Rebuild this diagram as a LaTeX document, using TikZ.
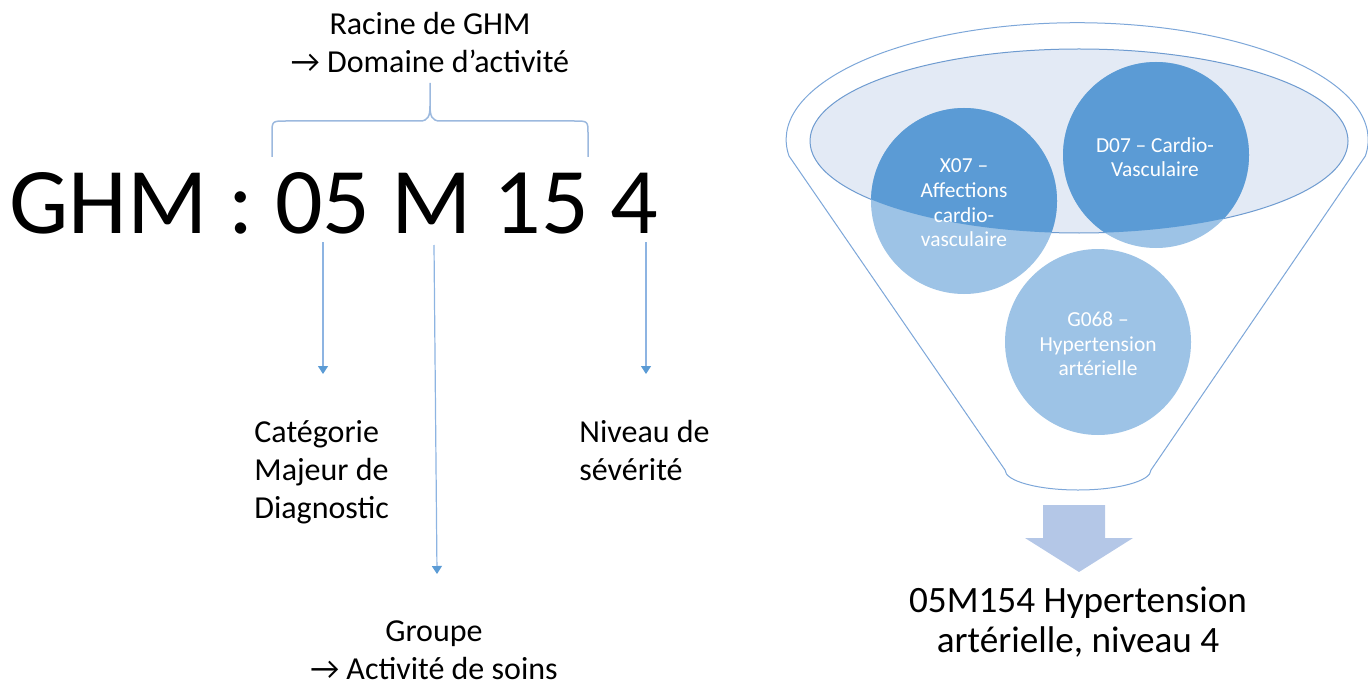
\documentclass[tikz,border=0pt]{standalone}
\usepackage{fontspec}
\setmainfont{Carlito}
\usetikzlibrary{arrows.meta}
\definecolor{darkc}{HTML}{5B9BD5}
\definecolor{lightc}{HTML}{9DC3E6}
\definecolor{glass}{HTML}{E3EAF5}
\definecolor{glassline}{HTML}{6E9BD0}
\definecolor{funline}{HTML}{7DA7D9}
\definecolor{bigarrow}{HTML}{B4C7E7}
\definecolor{bracec}{HTML}{9CB9DE}
\definecolor{arrline}{HTML}{8DB4E2}
\tikzset{
  lbl/.style={inner sep=0pt, font=\fontsize{16}{19}\selectfont, align=left},
  clbl/.style={inner sep=0pt, font=\fontsize{16}{19}\selectfont, align=center},
  ctext/.style={inner sep=0pt, text=white, font=\fontsize{10.7}{12.3}\selectfont, align=center},
  pointer/.style={draw=arrline, line width=0.6pt, -{Triangle[length=4pt,width=5pt,fill=darkc,color=darkc]}},
  bracepath/.style={draw=bracec, line width=0.75pt},
  funnelpath/.style={draw=funline, line width=0.5pt, fill=white},
}
\begin{document}
\begin{tikzpicture}[x=0.5pt,y=-0.5pt]
\useasboundingbox (0,0) rectangle (1368,684);

% ---------- left part ----------
\node[inner sep=0pt, anchor=base west, font=\fontsize{47}{56}\selectfont] (code) at (9,233) {GHM : 05 M 15 4};

\node[clbl] (racine) at (430,43) {Racine de GHM\\→ Domaine d’activité};

% brace
\draw[bracepath] (272,157) -- (272,134) .. controls (272,121) and (272,121) .. (286,121)
  -- (420,121) .. controls (428,121) and (430,116) .. (430,106) -- (430,83);
\draw[bracepath] (588,157) -- (588,134) .. controls (588,121) and (588,121) .. (574,121)
  -- (440,121) .. controls (432,121) and (430,116) .. (430,106);

\coordinate (s05) at (323,242);
\coordinate (e05) at (323,374);
\coordinate (sM) at (434,245);
\coordinate (eM) at (437,574);
\coordinate (s4) at (646,242);
\coordinate (e4) at (646,374);
\draw[pointer] (s05) -- (e05);
\draw[pointer] (sM) -- (eM);
\draw[pointer] (s4) -- (e4);

\node[lbl, anchor=west] (cmd) at (254,472) {Catégorie\\Majeur de\\Diagnostic};
\node[lbl, anchor=west] (niv) at (579,451) {Niveau de\\sévérité};
\node[clbl] (grp) at (434,650) {Groupe\\→ Activité de soins};

% ---------- funnel ----------
\draw[funnelpath] (789,156) arc[start angle=172, end angle=368, x radius=291, y radius=117]
  -- (1151,470) arc[start angle=0, end angle=180, x radius=73, y radius=20] -- cycle;

\draw[draw=glassline, line width=0.5pt, fill=glass] (1079,141) ellipse [x radius=269, y radius=92];

\fill[lightc] (964,201) circle [radius=93];
\fill[lightc] (1156,155) circle [radius=93];
\fill[lightc] (1098,342) circle [radius=93];
\begin{scope}
  \clip (1079,141) ellipse [x radius=269, y radius=92];
  \fill[darkc] (964,201) circle [radius=93];
  \fill[darkc] (1156,155) circle [radius=93];
\end{scope}

\node[ctext] (x07) at (964,203) {X07 –\\Affections\\cardio-\\vasculaire};
\node[ctext] (d07) at (1155,157) {D07 – Cardio-\\Vasculaire};
\node[ctext] (g068) at (1098,344) {G068 –\\Hypertension\\artérielle};

% big down arrow
\fill[bigarrow] (1043,505) -- (1105,505) -- (1105,538) -- (1133,538) -- (1079,572)
  -- (1025,538) -- (1043,538) -- cycle;

\node[inner sep=0pt, align=center, font=\fontsize{18.6}{20}\selectfont] (res) at (1078,622)
  {05M154 Hypertension\\artérielle, niveau 4};
\end{tikzpicture}
\end{document}
